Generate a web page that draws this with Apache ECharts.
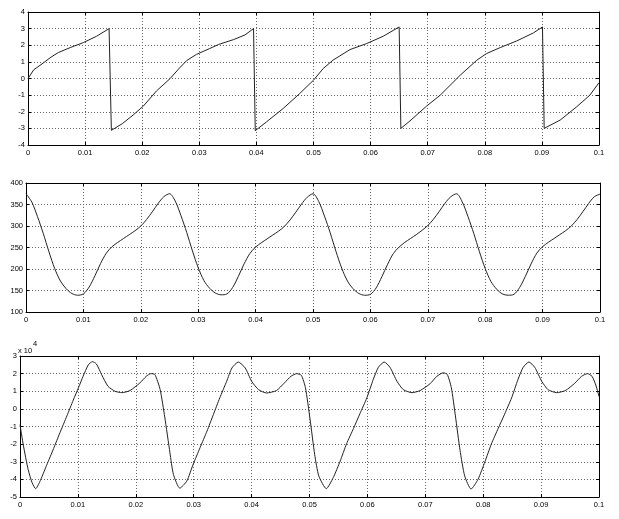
<!DOCTYPE html>
<html><head><meta charset="utf-8">
<script src="https://cdn.jsdelivr.net/npm/echarts@6/dist/echarts.min.js"></script>
<style>html,body{margin:0;padding:0;background:#fff}#c{width:619px;height:519px}</style>
</head><body><div id="c"></div>
<script>
// ---- DATA ----
const xTicks = [0,0.01,0.02,0.03,0.04,0.05,0.06,0.07,0.08,0.09,0.1];
// top plot: [time, value]
const topSignal = [[0,0],[0.001,0.52],[0.0027,0.94],[0.004,1.28],[0.0053,1.56],[0.0074,1.86],[0.0097,2.16],[0.012,2.54],[0.0142,3.0],[0.0146,-3.12],[0.0165,-2.72],[0.0184,-2.2],[0.0202,-1.66],[0.0225,-0.75],[0.0249,0],[0.0265,0.62],[0.0278,1.08],[0.0295,1.45],[0.0318,1.8],[0.0334,2.05],[0.036,2.34],[0.038,2.62],[0.0395,3.0],[0.0398,-3.14],[0.0418,-2.6],[0.0447,-1.8],[0.0476,-0.9],[0.05,-0.1],[0.0517,0.6],[0.0534,1.1],[0.0564,1.74],[0.0593,2.1],[0.0622,2.54],[0.065,3.1],[0.0653,-3.0],[0.0669,-2.55],[0.0698,-1.66],[0.0722,-1.0],[0.0757,0.2],[0.0786,1.1],[0.0803,1.5],[0.0827,1.86],[0.0856,2.26],[0.0885,2.74],[0.0901,3.1],[0.0904,-3.0],[0.0932,-2.5],[0.0961,-1.7],[0.0984,-1.0],[0.1,-0.25]];
// middle plot: sampled every 0.001 from 0 to 0.1
const midTime = Array.from({length:101},(_, i)=>+(i*0.001).toFixed(3));
const midSignal = [
375,356,322,283,240,201,172,154,143,139,142,158,184,213,237,252,262,271,280,289,300,315,333,352,368,
375,358,324,285,242,203,173,155,144,140,142,157,183,212,236,251,261,270,279,288,299,314,332,351,367,
375,357,323,284,241,202,172,154,143,139,141,156,182,211,236,251,262,271,280,290,301,316,334,353,368,
375,356,322,283,240,201,171,153,142,139,141,157,183,212,237,252,262,271,280,289,300,315,333,352,368,
374];
// bottom plot: [time, value in units of 1e4]
const bottomSignal = [[0,-0.9],[0.0006,-2.1],[0.0014,-3.43],[0.0021,-4.2],[0.0027,-4.53],[0.0034,-4.15],[0.0046,-3.2],[0.0058,-2.25],[0.0069,-1.35],[0.0081,-0.4],[0.0092,0.5],[0.0101,1.2],[0.0109,1.85],[0.0118,2.5],[0.0125,2.68],[0.0132,2.55],[0.0141,1.94],[0.0152,1.28],[0.0164,1.0],[0.0176,0.92],[0.019,1.04],[0.0207,1.47],[0.0218,1.85],[0.0226,2.0],[0.0233,1.95],[0.0242,1.1],[0.025,-0.46],[0.0259,-2.5],[0.0265,-3.72],[0.0276,-4.5],[0.0288,-4.1],[0.0299,-3.15],[0.0311,-2.2],[0.0323,-1.26],[0.0334,-0.32],[0.0345,0.62],[0.0357,1.57],[0.0366,2.32],[0.0377,2.66],[0.0389,2.32],[0.04,1.57],[0.0412,1.09],[0.0426,0.9],[0.0443,1.04],[0.0456,1.45],[0.0468,1.85],[0.0478,2.0],[0.0486,1.9],[0.0493,1.2],[0.0501,-0.6],[0.0509,-2.6],[0.0516,-3.8],[0.0529,-4.53],[0.0541,-3.9],[0.0553,-2.96],[0.0564,-1.98],[0.0576,-1.11],[0.0587,-0.28],[0.0599,0.62],[0.061,1.66],[0.0619,2.36],[0.0629,2.66],[0.0639,2.36],[0.0651,1.57],[0.0662,1.09],[0.0677,0.92],[0.0691,1.04],[0.0708,1.42],[0.072,1.85],[0.0731,2.05],[0.0738,1.95],[0.0745,1.2],[0.0752,-0.4],[0.076,-2.35],[0.0768,-3.8],[0.0779,-4.55],[0.0791,-4.0],[0.0803,-3.0],[0.0814,-2.0],[0.0826,-1.1],[0.0837,-0.3],[0.0849,0.62],[0.086,1.66],[0.0869,2.36],[0.0879,2.66],[0.0889,2.36],[0.0901,1.57],[0.0912,1.09],[0.0927,0.92],[0.0942,1.04],[0.0958,1.45],[0.097,1.85],[0.098,2.0],[0.0988,1.85],[0.0995,1.3],[0.1,0.7]];
const yRanges = [{min:-4,max:4,interval:1},{min:100,max:400,interval:50},{min:-5,max:3,interval:1}];

// ---- CHART ----
const FONT = 'Liberation Sans, Arial, sans-serif';
const grids = [
  {left:28,right:20,top:12,height:133},
  {left:26,right:19,top:183,height:129},
  {left:20,right:20,top:356,height:141}
];
const gridLine = {show:true,lineStyle:{color:'#666',type:[1,2],width:1}};
const xAxes=[], yAxes=[];
grids.forEach((g,i)=>{
  xAxes.push({type:'value',gridIndex:i,min:0,max:0.1,interval:0.01,position:'bottom',
    axisLine:{show:true,onZero:false,lineStyle:{color:'#000',width:1}},
    axisTick:{show:true,inside:true,length:3,lineStyle:{color:'#000'}},
    axisLabel:{show:true,margin:4,fontSize:7.5,fontFamily:FONT,color:'#000',formatter:v=>String(+v.toFixed(2))},
    splitLine:gridLine});
  xAxes.push({type:'value',gridIndex:i,min:0,max:0.1,interval:0.01,position:'top',
    axisLine:{show:true,onZero:false,lineStyle:{color:'#000',width:1}},
    axisTick:{show:true,inside:true,length:3,lineStyle:{color:'#000'}},
    axisLabel:{show:false},splitLine:{show:false}});
  const r=yRanges[i];
  yAxes.push({type:'value',gridIndex:i,min:r.min,max:r.max,interval:r.interval,position:'left',
    axisLine:{show:true,onZero:false,lineStyle:{color:'#000',width:1}},
    axisTick:{show:true,inside:true,length:3,lineStyle:{color:'#000'}},
    axisLabel:{show:true,margin:3,fontSize:7.5,fontFamily:FONT,color:'#000'},
    splitLine:gridLine});
  yAxes.push({type:'value',gridIndex:i,min:r.min,max:r.max,interval:r.interval,position:'right',
    axisLine:{show:true,onZero:false,lineStyle:{color:'#000',width:1}},
    axisTick:{show:true,inside:true,length:3,lineStyle:{color:'#000'}},
    axisLabel:{show:false},splitLine:{show:false}});
});
const lineStyle={color:'#222',width:1};
const option={
  animation:false,
  backgroundColor:'#fff',
  grid:grids,
  xAxis:xAxes,
  yAxis:yAxes,
  graphic:[
    {type:'text',left:18,top:347,style:{text:'x 10',font:'7.5px '+FONT,fill:'#000'}},
    {type:'text',left:33,top:340,style:{text:'4',font:'7.5px '+FONT,fill:'#000'}}
  ],
  series:[
    {type:'line',xAxisIndex:0,yAxisIndex:0,data:topSignal,symbol:'none',lineStyle:lineStyle,smooth:false},
    {type:'line',xAxisIndex:2,yAxisIndex:2,data:midTime.map((t,i)=>[t,midSignal[i]]),symbol:'none',lineStyle:lineStyle,smooth:0.3},
    {type:'line',xAxisIndex:4,yAxisIndex:4,data:bottomSignal,symbol:'none',lineStyle:lineStyle,smooth:0.2}
  ]
};
echarts.init(document.getElementById('c'),null,{renderer:'canvas'}).setOption(option);
</script></body></html>
